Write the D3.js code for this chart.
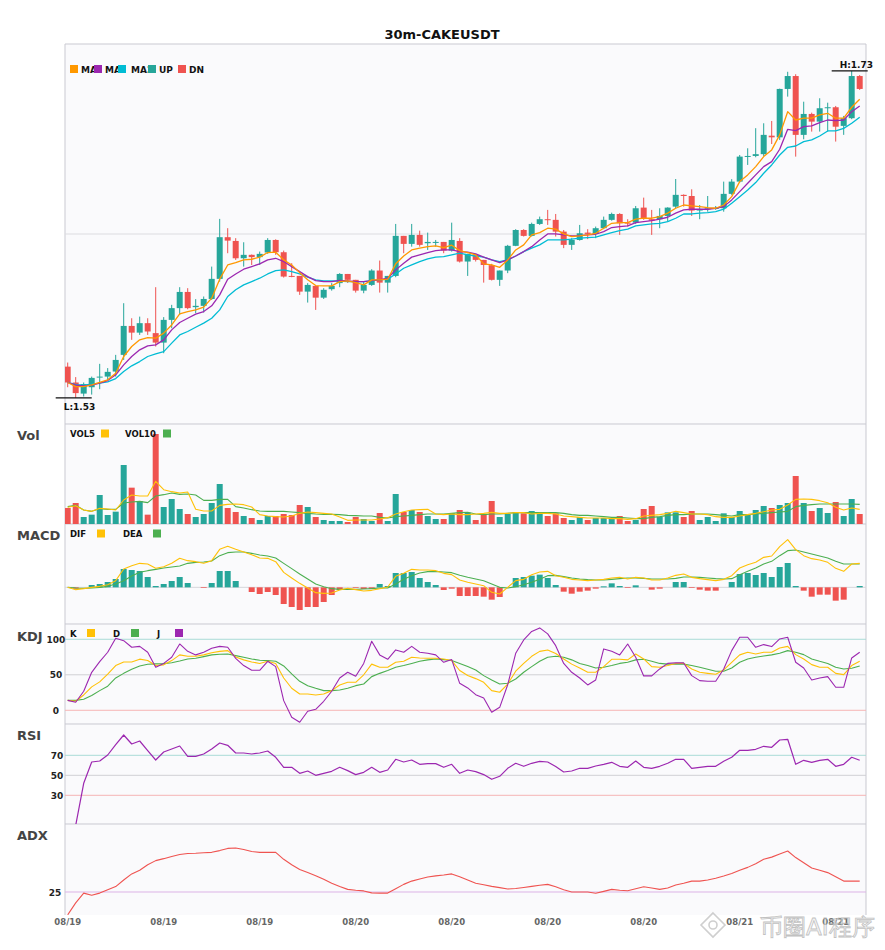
<!DOCTYPE html>
<html><head><meta charset="utf-8">
<script src="https://cdn.jsdelivr.net/npm/d3@7"></script>
<style>body{margin:0;background:#fff;} text{font-family:"DejaVu Sans",sans-serif;}</style>
</head><body>
<svg id="chart" width="885" height="950"></svg>
<script>
const title = "30m-CAKEUSDT";
const tickIndex = [0,12,24,36,48,60,72,84,96];
const tickLabels = ["08/19","08/19","08/19","08/20","08/20","08/20","08/20","08/21","08/21"];

const open = [1.5491,1.5394,1.5326,1.5365,1.5427,1.5430,1.5461,1.5563,1.5740,1.5699,
1.5757,1.5696,1.5638,1.5777,1.5849,1.5948,1.5855,1.5863,1.5905,1.6028,
1.6283,1.6260,1.6154,1.6175,1.6161,1.6189,1.6266,1.6191,1.6046,1.6046,
1.5950,1.5985,1.5913,1.5965,1.6002,1.6058,1.6022,1.5956,1.5991,1.6079,
1.6005,1.6046,1.6291,1.6242,1.6297,1.6246,1.6248,1.6254,1.6201,1.6260,
1.6134,1.6175,1.6144,1.6112,1.6022,1.6079,1.6230,1.6327,1.6291,1.6364,
1.6393,1.6389,1.6317,1.6236,1.6266,1.6311,1.6303,1.6338,1.6389,1.6425,
1.6372,1.6372,1.6464,1.6393,1.6393,1.6413,1.6470,1.6542,1.6535,1.6446,
1.6454,1.6460,1.6460,1.6548,1.6623,1.6776,1.6780,1.6791,1.6904,1.6894,
1.7190,1.7269,1.6909,1.7037,1.6990,1.7072,1.7078,1.6964,1.7011,1.7269];
const high = [1.5516,1.5427,1.5394,1.5430,1.5508,1.5482,1.5563,1.5879,1.5787,1.5797,
1.5787,1.5977,1.5794,1.5869,1.5977,1.5971,1.5904,1.5920,1.6103,1.6395,
1.6338,1.6277,1.6252,1.6177,1.6195,1.6277,1.6270,1.6201,1.6124,1.6046,
1.6002,1.5985,1.5971,1.6002,1.6063,1.6058,1.6022,1.6011,1.6087,1.6140,
1.6046,1.6364,1.6291,1.6364,1.6323,1.6311,1.6266,1.6254,1.6372,1.6277,
1.6181,1.6181,1.6144,1.6120,1.6079,1.6236,1.6332,1.6332,1.6372,1.6409,
1.6450,1.6425,1.6327,1.6277,1.6358,1.6332,1.6348,1.6409,1.6433,1.6430,
1.6393,1.6474,1.6525,1.6450,1.6460,1.6466,1.6639,1.6545,1.6576,1.6480,
1.6535,1.6474,1.6623,1.6638,1.6786,1.6827,1.6950,1.6980,1.6994,1.7192,
1.7295,1.7280,1.7112,1.7045,1.7133,1.7106,1.7086,1.7025,1.7300,1.7275];
const low = [1.5365,1.5300,1.5308,1.5320,1.5353,1.5410,1.5430,1.5532,1.5655,1.5685,
1.5685,1.5614,1.5573,1.5726,1.5808,1.5842,1.5818,1.5822,1.5899,1.6011,
1.6185,1.6144,1.6103,1.6113,1.6113,1.6181,1.6175,1.6036,1.6038,1.5930,
1.5883,1.5838,1.5905,1.5956,1.5977,1.6003,1.5944,1.5940,1.5985,1.5944,
1.5944,1.6038,1.6185,1.6225,1.6225,1.6205,1.6225,1.6185,1.6195,1.6128,
1.6046,1.6134,1.6005,1.6018,1.5985,1.6063,1.6228,1.6287,1.6287,1.6358,
1.6358,1.6287,1.6216,1.6205,1.6262,1.6271,1.6277,1.6332,1.6384,1.6297,
1.6348,1.6364,1.6389,1.6297,1.6338,1.6378,1.6460,1.6470,1.6413,1.6393,
1.6439,1.6450,1.6439,1.6542,1.6617,1.6725,1.6772,1.6780,1.6853,1.6878,
1.7143,1.6776,1.6882,1.6929,1.6929,1.6929,1.6868,1.6909,1.7005,1.7184];
const close = [1.5394,1.5329,1.5384,1.5422,1.5430,1.5459,1.5532,1.5740,1.5699,1.5757,
1.5706,1.5638,1.5777,1.5849,1.5948,1.5849,1.5863,1.5905,1.6028,1.6283,
1.6262,1.6154,1.6175,1.6161,1.6181,1.6266,1.6191,1.6042,1.6040,1.5950,
1.5991,1.5913,1.5961,1.5985,1.6058,1.6022,1.5956,1.5991,1.6079,1.6005,
1.6046,1.6291,1.6242,1.6297,1.6236,1.6254,1.6254,1.6201,1.6266,1.6134,
1.6181,1.6144,1.6113,1.6022,1.6079,1.6230,1.6327,1.6291,1.6364,1.6393,
1.6389,1.6317,1.6236,1.6266,1.6307,1.6303,1.6338,1.6389,1.6425,1.6368,
1.6368,1.6460,1.6399,1.6384,1.6413,1.6464,1.6542,1.6535,1.6446,1.6454,
1.6460,1.6462,1.6548,1.6623,1.6776,1.6780,1.6791,1.6909,1.6894,1.7190,
1.7269,1.6909,1.7037,1.6990,1.7072,1.7078,1.6959,1.7011,1.7269,1.7190];

const ma5 = [1.5394,1.5369,1.5369,1.5380,1.5394,1.5410,1.5451,1.5553,1.5614,1.5655,
1.5669,1.5665,1.5696,1.5746,1.5814,1.5828,1.5838,1.5855,1.5910,1.6026,
1.6113,1.6127,1.6144,1.6148,1.6161,1.6189,1.6191,1.6144,1.6113,1.6066,
1.6022,1.5987,1.5985,1.5985,1.6011,1.6016,1.6005,1.5991,1.6022,1.6022,
1.6026,1.6120,1.6168,1.6205,1.6216,1.6225,1.6230,1.6219,1.6234,1.6201,
1.6189,1.6175,1.6120,1.6113,1.6099,1.6144,1.6205,1.6236,1.6297,1.6311,
1.6338,1.6332,1.6303,1.6287,1.6291,1.6297,1.6307,1.6338,1.6368,1.6372,
1.6372,1.6393,1.6399,1.6399,1.6409,1.6430,1.6460,1.6480,1.6474,1.6470,
1.6464,1.6460,1.6480,1.6531,1.6623,1.6664,1.6715,1.6776,1.6817,1.6909,
1.7051,1.7000,1.7011,1.7011,1.7031,1.7041,1.7011,1.7011,1.7078,1.7127];
const ma10 = [1.5394,1.5378,1.5373,1.5378,1.5390,1.5406,1.5441,1.5502,1.5553,1.5594,
1.5618,1.5624,1.5655,1.5716,1.5761,1.5787,1.5812,1.5828,1.5863,1.5930,
1.6026,1.6058,1.6087,1.6103,1.6120,1.6144,1.6154,1.6134,1.6103,1.6072,
1.6042,1.6017,1.6011,1.6011,1.6019,1.6016,1.6011,1.6011,1.6017,1.6022,
1.6032,1.6083,1.6124,1.6161,1.6175,1.6189,1.6201,1.6205,1.6205,1.6195,
1.6191,1.6181,1.6161,1.6144,1.6128,1.6144,1.6168,1.6195,1.6225,1.6266,
1.6303,1.6303,1.6297,1.6291,1.6293,1.6297,1.6301,1.6317,1.6342,1.6348,
1.6352,1.6372,1.6378,1.6384,1.6393,1.6405,1.6430,1.6450,1.6454,1.6454,
1.6454,1.6460,1.6470,1.6511,1.6562,1.6613,1.6664,1.6715,1.6745,1.6821,
1.6943,1.6935,1.6959,1.6964,1.6984,1.7000,1.6996,1.7000,1.7051,1.7086];
const ma20 = [1.5394,1.5381,1.5378,1.5384,1.5390,1.5398,1.5418,1.5461,1.5496,1.5522,
1.5553,1.5569,1.5583,1.5635,1.5685,1.5706,1.5732,1.5757,1.5787,1.5838,
1.5920,1.5961,1.5991,1.6011,1.6032,1.6058,1.6079,1.6083,1.6072,1.6058,
1.6038,1.6022,1.6016,1.6016,1.6014,1.6011,1.6011,1.6011,1.6016,1.6022,
1.6026,1.6058,1.6093,1.6113,1.6134,1.6150,1.6161,1.6164,1.6175,1.6185,
1.6175,1.6168,1.6161,1.6144,1.6134,1.6144,1.6168,1.6195,1.6216,1.6236,
1.6266,1.6266,1.6266,1.6271,1.6277,1.6280,1.6283,1.6297,1.6311,1.6323,
1.6332,1.6352,1.6358,1.6364,1.6368,1.6378,1.6399,1.6425,1.6425,1.6430,
1.6433,1.6439,1.6454,1.6491,1.6531,1.6572,1.6617,1.6674,1.6725,1.6786,
1.6833,1.6841,1.6868,1.6878,1.6902,1.6933,1.6933,1.6949,1.6980,1.7017];

const volume = [48,63,21,28,87,27,37,177,109,69,
28,270,51,75,45,30,21,30,63,120,
48,36,24,18,12,24,24,30,27,57,
51,21,12,9,9,6,21,15,9,33,
9,90,36,42,36,24,15,15,33,42,
34,12,28,69,21,30,35,32,39,32,
24,32,18,12,21,12,18,18,15,24,
9,12,45,54,21,35,35,21,39,12,
21,9,32,21,39,27,42,54,48,57,
63,144,63,39,48,33,66,24,75,30];
const vol5 = [50,55,42,38,47,45,42,72,87,84,
84,128,103,97,93,96,44,39,39,56,
59,60,58,51,28,24,22,21,24,32,
36,34,32,30,21,11,12,12,12,15,
19,30,37,42,43,44,30,28,30,28,
28,30,32,35,32,32,34,34,30,32,
32,30,24,22,20,18,18,18,16,16,
14,16,24,26,28,32,38,34,30,30,
28,22,20,20,24,28,32,37,42,44,
57,74,75,74,70,64,50,42,48,44];
const vol10 = [52,56,42,38,46,44,44,63,66,68,
64,84,88,93,89,90,87,71,71,74,
74,52,48,43,39,38,38,38,36,34,
32,30,29,29,28,26,25,24,24,20,
18,22,24,26,28,30,30,30,32,34,
35,30,28,30,30,32,34,34,34,34,
34,34,32,28,26,26,24,22,20,20,
18,16,16,20,22,26,28,28,30,30,
30,28,26,24,28,28,30,32,34,36,
38,52,56,58,60,60,60,60,60,59];

const dif = [0,-7,-4,0,3,8,20,55,65,72,
70,57,62,72,87,80,77,72,80,114,
123,114,106,98,88,87,77,45,28,12,
-2,-16,-18,-17,-8,-3,-7,-11,-9,-4,
1,33,42,54,52,52,50,42,38,22,
15,10,5,-15,-20,0,20,24,38,46,
48,35,30,24,22,20,22,24,28,30,
25,30,28,22,22,28,36,40,30,26,
23,20,24,35,58,68,75,90,94,122,
143,113,95,86,82,75,57,48,70,72].map(v => v / 10000);
const dea = [0,-2,-3,-2,0,3,10,20,34,45,
50,54,58,61,64,72,75,76,79,95,
104,106,106,102,97,94,88,72,56,40,
25,10,2,-4,-6,-6,-6,-5,-4,-2,
-2,10,24,35,43,47,48,46,44,36,
30,25,20,10,0,-2,2,8,15,24,
35,36,32,28,25,23,22,22,24,26,
28,28,27,25,25,25,27,31,31,30,
28,26,25,26,38,48,58,70,78,95,
110,112,106,100,94,88,78,70,70,70].map(v => v / 10000);
const macdHist = [0,-4,0,7,10,16,25,55,52,49,
31,4,10,19,31,13,0,-2,13,49,
49,19,0,-14,-20,-14,-23,-50,-59,-68,
-59,-59,-44,-23,-8,0,-2,-5,-5,10,
4,43,43,46,28,16,7,-8,-4,-26,
-26,-26,-28,-37,-29,0,28,31,35,38,
28,7,-13,-19,-13,-10,-4,3,12,4,
-2,6,0,-7,-4,0,16,16,-2,-7,
-10,-10,0,16,40,43,37,43,31,61,
73,4,-10,-28,-22,-22,-40,-37,0,4].map(v => v / 10000);

const kVals = [14,12.7,21.6,33,40,51,63,68,68,72,
70,63,64,70,78,76,76,78,81,83,
84,75,71,68,66,69,66,45.5,31,23,
23,21.6,23,27.7,35.7,39.4,39.4,50,65,60.6,
60.6,67.6,69,74.6,73.7,73.2,73.2,72.3,70,56,
49,44.6,39.4,27.7,25.4,37,55,66,76,83,
85,80,72.3,65,59.6,53.5,53.5,61.5,71.8,71.8,
71,79.3,72.3,61.5,60.6,63,66,66,58.2,53.5,
52,50.7,56.8,67.6,78,81.7,79.3,81.7,81.7,87.8,
90,78.4,72.3,64.3,60.6,60.6,52,50.2,63,69];
const dVals = [14,14,15.5,20.7,27.7,34,45.5,52,57.7,62.4,
64.8,65.3,65.7,67,69.5,72.3,73.2,75.6,78,79,
79.3,77,74.6,72.3,70.4,70,69,62.4,51.2,40.8,
34.7,31,27.7,27.7,28.6,31,34.7,37,47.4,52,
56,60.6,63,66,69,71,72.3,71.4,70,66,
61.5,56.8,48.8,42.7,37,38,44,53.5,61.5,69,
74.6,76,74.6,71,66,63,59.6,60.6,63,66,
67.6,71,71.8,69,66,65,65,65,63,60.6,
57.7,55,55,59.6,67.6,72.3,74.6,76.5,78,80.3,
84,81.7,78.4,72.3,69,66,60.6,58.2,59.2,62.4];
const jVals = [14,11.3,26.8,53.5,68.5,81.7,101.4,98,88.7,90,
81.7,60.6,66,74.6,93.4,83,78,81.7,87.3,90,
88.7,73.2,63,56.3,56.3,69,61.5,13.6,-9.9,-16.9,
-1.4,1.4,12.7,26.8,45.5,53.5,47.9,66,97.2,78,
71.8,85,81.7,90,81.7,80.3,78,67.6,71.4,38,
31.5,22,17.4,-2.8,4.2,36,80.3,99,111,116,
107.6,91,66,53.5,45.5,35.7,42.7,86.4,83,78,
93.4,74.6,48.4,48.4,58.2,66,67,66.7,48.8,41.8,
40.8,40.8,58.2,84,102.8,102.8,88.7,92.5,89.7,100.5,
102.8,67.6,59.6,42.7,45.5,47.4,32.4,32.4,73.7,81.7];

const rsi = [null,0,42,63.3,64.3,70.3,80.7,90.3,81.3,84.3,
74.7,65.3,73.3,76.3,79.3,69,69,71.3,76.3,82.3,
80,72.3,72.3,71.3,72.3,74.3,68,58,58,52,
54.3,50,52,54,58,54.7,50.7,53,58,53,
55.3,66,63.3,65.3,61,61.7,61.7,58,61,52,
55.3,53.7,50.7,46,49,57,62,59,62,64,
63.3,58.7,53.3,54.3,57,57,59.3,61,63,59,
58,64.3,58,57,59,62,66,66,57,58,
59,59,64,68,75,75,76,79,78,85.3,
86,61,65,63,65,66,59,61,68,65];
const adx = [14.5,20,24.5,23.5,24.5,26,27.5,30.5,33.3,35,
37.5,39.4,40.3,41.3,42.2,42.7,42.8,43,43.2,44,
45,45.2,44.5,43.6,43.2,43.2,43.2,40,37.5,35.3,
33.9,32.5,30.8,29,27.5,26.2,25.8,25.5,24.6,24.5,
24.5,26.5,28.5,30,31,31.9,32.4,32.8,33.3,32,
30.5,29,28.3,27.6,27,26.4,26.6,27.1,27.6,28.1,
28.5,27.4,26,25,25,25,24.4,25.3,26.2,25.8,
25.6,26.5,27.4,26.8,26.2,26.8,28.2,29,30,30,
30.5,31.3,32.3,33.5,35,36.3,38,40,41,42.4,
43.8,40.8,38.4,36,35,33.9,32,30,30,30];

const UP = "#26a69a", DN = "#ef5350";
const C_MA5 = "#ff9800", C_MA10 = "#9c27b0", C_MA20 = "#00bcd4";
const C_Y = "#ffc107", C_G = "#4caf50", C_P = "#9c27b0";
const BG = "#fafafc";

const svg = d3.select("#chart");
const L = 65, R = 866;
const n = close.length;
const x = d3.scaleLinear().domain([0, n - 1]).range([67.7, 859.7]);
const idx = d3.range(n);

const P = {
  main: [44, 424], vol: [424, 524], macd: [524, 624],
  kdj: [624, 724], rsi: [724, 824], adx: [824, 915]
};

Object.entries(P).forEach(([k, [t, b]]) => {
  svg.append("rect").attr("x", L).attr("y", t).attr("width", R - L).attr("height", b - t).attr("fill", BG);
  svg.append("clipPath").attr("id", "clip-" + k).append("rect")
    .attr("x", L).attr("y", t).attr("width", R - L).attr("height", b - t);
});

const border = svg.append("g").attr("stroke", "#c9c9d1").attr("stroke-width", 1).attr("fill", "none");
border.append("line").attr("x1", L).attr("x2", L).attr("y1", 44).attr("y2", 915);
border.append("line").attr("x1", R).attr("x2", R).attr("y1", 44).attr("y2", 915);
[44, 424, 524, 624, 724, 824].forEach(yy => border.append("line").attr("x1", L).attr("x2", R).attr("y1", yy).attr("y2", yy));

svg.append("text").attr("x", 442).attr("y", 39).attr("text-anchor", "middle")
  .attr("font-size", 13).attr("font-weight", "bold").attr("fill", "#111").text(title);

// ===== main panel =====
const yMain = d3.scaleLinear().domain([1.514, 1.7465]).range([P.main[1], P.main[0]]);
const gMain = svg.append("g").attr("clip-path", "url(#clip-main)");
const midPrice = (yMain.domain()[0] + yMain.domain()[1]) / 2;
gMain.append("line").attr("x1", L).attr("x2", R).attr("y1", yMain(midPrice)).attr("y2", yMain(midPrice))
  .attr("stroke", "#dcdce0").attr("stroke-width", 1);

const candles = gMain.selectAll("g.c").data(idx).join("g").attr("class", "c");
candles.append("line")
  .attr("x1", i => x(i)).attr("x2", i => x(i))
  .attr("y1", i => yMain(high[i])).attr("y2", i => yMain(low[i]))
  .attr("stroke", i => close[i] >= open[i] ? UP : DN).attr("stroke-width", 1);
candles.append("rect")
  .attr("x", i => x(i) - 3).attr("width", 6)
  .attr("y", i => yMain(Math.max(open[i], close[i])))
  .attr("height", i => Math.max(1, Math.abs(yMain(open[i]) - yMain(close[i]))))
  .attr("fill", i => close[i] >= open[i] ? UP : DN);

function drawLine(g, arr, y, color, w) {
  g.append("path").datum(idx.filter(i => arr[i] !== null && arr[i] !== undefined))
    .attr("fill", "none").attr("stroke", color).attr("stroke-width", w || 1.2)
    .attr("stroke-linejoin", "round")
    .attr("d", d3.line().x(i => x(i)).y(i => y(arr[i])));
}
drawLine(gMain, ma20, yMain, C_MA20, 1.3);
drawLine(gMain, ma10, yMain, C_MA10, 1.3);
drawLine(gMain, ma5, yMain, C_MA5, 1.3);

const iHigh = d3.maxIndex(high), iLow = d3.minIndex(low);
svg.append("line").attr("x1", x(iHigh) - 20).attr("x2", x(iHigh) + 16)
  .attr("y1", yMain(high[iHigh])).attr("y2", yMain(high[iHigh])).attr("stroke", "#111").attr("stroke-width", 1.2);
svg.append("text").attr("x", x(iHigh) - 12).attr("y", yMain(high[iHigh]) - 3)
  .attr("font-size", 9).attr("font-weight", "bold").attr("fill", "#111").text("H:" + high[iHigh].toFixed(2));
svg.append("line").attr("x1", x(iLow) - 20).attr("x2", x(iLow) + 16)
  .attr("y1", yMain(low[iLow])).attr("y2", yMain(low[iLow])).attr("stroke", "#111").attr("stroke-width", 1.2);
svg.append("text").attr("x", x(iLow) - 12).attr("y", yMain(low[iLow]) + 12)
  .attr("font-size", 9).attr("font-weight", "bold").attr("fill", "#111").text("L:" + low[iLow].toFixed(2));

// main legend: each item paints a background box that hides the overflow of the previous label
const mainLegend = [
  {t: "MA5", c: C_MA5, sx: 70, tx: 81},
  {t: "MA10", c: C_MA10, sx: 94, tx: 105},
  {t: "MA20", c: C_MA20, sx: 118, tx: 131},
  {t: "UP", c: UP, sx: 148, tx: 159},
  {t: "DN", c: DN, sx: 178, tx: 189}
];
const lg = svg.append("g");
mainLegend.forEach(d => {
  const item = lg.append("g");
  item.append("rect").attr("x", d.sx).attr("y", 62).attr("width", 26).attr("height", 14).attr("fill", BG);
  item.append("rect").attr("x", d.sx).attr("y", 65).attr("width", 8).attr("height", 8).attr("fill", d.c);
  item.append("text").attr("x", d.tx).attr("y", 72.5).attr("font-size", 9)
    .attr("font-weight", "bold").attr("fill", "#111").text(d.t);
});

function smallLegend(items, yTop) {
  items.forEach(d => {
    svg.append("text").attr("x", d.tx).attr("y", yTop + 7.5).attr("font-size", 8.5)
      .attr("font-weight", "bold").attr("fill", "#111").text(d.t);
    svg.append("rect").attr("x", d.sx).attr("y", yTop).attr("width", 8).attr("height", 8).attr("fill", d.c);
  });
}
function panelLabel(t, yy) {
  svg.append("text").attr("x", 17).attr("y", yy).attr("font-size", 13).attr("font-weight", "bold")
    .attr("fill", "#444").text(t);
}

// ===== volume =====
const yVol = d3.scaleLinear().domain([0, d3.max(volume) / 0.9]).range([P.vol[1], P.vol[0]]);
const gVol = svg.append("g").attr("clip-path", "url(#clip-vol)");
gVol.selectAll("rect").data(idx).join("rect")
  .attr("x", i => x(i) - 3).attr("width", 6)
  .attr("y", i => yVol(volume[i])).attr("height", i => yVol(0) - yVol(volume[i]))
  .attr("fill", i => close[i] >= open[i] ? UP : DN);
drawLine(gVol, vol10, yVol, C_G, 1.1);
drawLine(gVol, vol5, yVol, C_Y, 1.1);
panelLabel("Vol", 440);
smallLegend([{t: "VOL5", c: C_Y, sx: 101, tx: 70}, {t: "VOL10", c: C_G, sx: 163, tx: 125}], 429.5);

// ===== MACD =====
const yMacd = d3.scaleLinear().domain([-0.011, 0.019]).range([P.macd[1], P.macd[0]]);
const gMacd = svg.append("g").attr("clip-path", "url(#clip-macd)");
gMacd.append("line").attr("x1", L).attr("x2", R).attr("y1", yMacd(0)).attr("y2", yMacd(0))
  .attr("stroke", "#d6d6da").attr("stroke-width", 1);
gMacd.selectAll("rect").data(idx.filter(i => macdHist[i] !== 0)).join("rect")
  .attr("x", i => x(i) - 3).attr("width", 6)
  .attr("y", i => yMacd(Math.max(0, macdHist[i])))
  .attr("height", i => Math.abs(yMacd(macdHist[i]) - yMacd(0)))
  .attr("fill", i => macdHist[i] >= 0 ? UP : DN);
drawLine(gMacd, dea, yMacd, C_G, 1.1);
drawLine(gMacd, dif, yMacd, C_Y, 1.1);
panelLabel("MACD", 540);
smallLegend([{t: "DIF", c: C_Y, sx: 97, tx: 70}, {t: "DEA", c: C_G, sx: 153, tx: 123}], 529.5);

// ===== KDJ =====
const yKdj = d3.scaleLinear().domain([-19.3, 121.5]).range([P.kdj[1], P.kdj[0]]);
const gKdj = svg.append("g").attr("clip-path", "url(#clip-kdj)");
const kdjLevels = [{v: 100, c: "#a9dbd6"}, {v: 50, c: "#d0d0d4"}, {v: 0, c: "#f6b5b4"}];
kdjLevels.forEach(l => {
  gKdj.append("line").attr("x1", L).attr("x2", R).attr("y1", yKdj(l.v)).attr("y2", yKdj(l.v)).attr("stroke", l.c).attr("stroke-width", 1);
  svg.append("text").attr("x", 56).attr("y", yKdj(l.v) + 3.5).attr("text-anchor", "middle").attr("font-size", 9)
    .attr("font-weight", "bold").attr("fill", "#222").text(l.v);
});
drawLine(gKdj, dVals, yKdj, C_G, 1.1);
drawLine(gKdj, kVals, yKdj, C_Y, 1.1);
drawLine(gKdj, jVals, yKdj, C_P, 1.1);
panelLabel("KDJ", 641);
smallLegend([{t: "K", c: C_Y, sx: 87, tx: 70}, {t: "D", c: C_G, sx: 131, tx: 113}, {t: "J", c: C_P, sx: 175, tx: 157}], 629);

// ===== RSI =====
const yRsi = d3.scaleLinear().domain([0, 100]).range([825.3, 725.3]);
const gRsi = svg.append("g").attr("clip-path", "url(#clip-rsi)");
const rsiLevels = [{v: 70, c: "#a9dbd6"}, {v: 50, c: "#d0d0d4"}, {v: 30, c: "#f6b5b4"}];
rsiLevels.forEach(l => {
  gRsi.append("line").attr("x1", L).attr("x2", R).attr("y1", yRsi(l.v)).attr("y2", yRsi(l.v)).attr("stroke", l.c).attr("stroke-width", 1);
  svg.append("text").attr("x", 57).attr("y", yRsi(l.v) + 3.5).attr("text-anchor", "middle").attr("font-size", 9)
    .attr("font-weight", "bold").attr("fill", "#222").text(l.v);
});
drawLine(gRsi, rsi, yRsi, C_P, 1.2);
panelLabel("RSI", 740);

// ===== ADX =====
const yAdx = d3.scaleLinear().domain([14.45, 56.2]).range([P.adx[1], P.adx[0]]);
const gAdx = svg.append("g").attr("clip-path", "url(#clip-adx)");
gAdx.append("line").attr("x1", L).attr("x2", R).attr("y1", yAdx(25)).attr("y2", yAdx(25)).attr("stroke", "#dcb3e6").attr("stroke-width", 1);
svg.append("text").attr("x", 55).attr("y", yAdx(25) + 3.5).attr("text-anchor", "middle").attr("font-size", 9)
  .attr("font-weight", "bold").attr("fill", "#222").text("25");
drawLine(gAdx, adx, yAdx, DN, 1.1);
panelLabel("ADX", 840);

// x axis labels
svg.append("g").selectAll("text").data(tickIndex).join("text")
  .attr("x", i => x(i)).attr("y", 925).attr("text-anchor", "middle")
  .attr("font-size", 8.5).attr("font-weight", "bold").attr("fill", "#666")
  .text((d, k) => tickLabels[k]);

// watermark (as in the reference, it sits over the last axis labels)
const wm = svg.append("g").attr("opacity", 0.7);
wm.append("path").attr("d", "M713,913 L725,925 L713,937 L701,925 Z").attr("fill", "none").attr("stroke", "#bbb").attr("stroke-width", 1.6);
wm.append("circle").attr("cx", 713).attr("cy", 925).attr("r", 4).attr("fill", "none").attr("stroke", "#bbb").attr("stroke-width", 1.6);
wm.append("text").attr("x", 760).attr("y", 935).attr("font-size", 23)
  .attr("font-family", "'Noto Sans CJK SC', sans-serif").attr("fill", "#f2f2f2")
  .attr("stroke", "#a8a8a8").attr("stroke-width", 0.8).text("币圈AI程序");
</script>
</body></html>
